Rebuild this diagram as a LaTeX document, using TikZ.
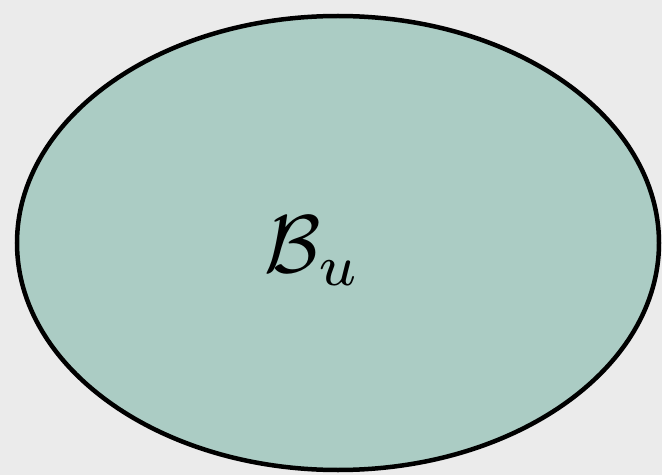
\documentclass[tikz,border=0pt]{standalone}
\usepackage{amsmath}
\definecolor{bgc}{HTML}{EBEBEB}
\definecolor{fillc}{HTML}{ABCCC4}
\begin{document}
\begin{tikzpicture}[x=1pt,y=1pt,
  blob/.style={draw=black,line width=4.5pt,fill=fillc}]
\fill[bgc] (0,0) rectangle (662,475);
\useasboundingbox (0,0) rectangle (662,475);
\draw[blob] (338,232) ellipse [x radius=321,y radius=227];
\node[scale=8.2] (lab) at (313,224) {$\mathcal{B}_u$};
\end{tikzpicture}
\end{document}
